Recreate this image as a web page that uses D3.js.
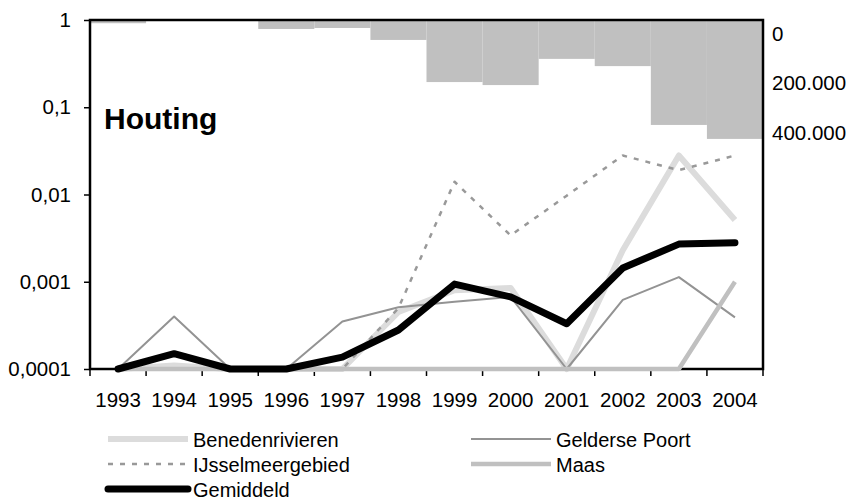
<!DOCTYPE html>
<html>
<head>
<meta charset="utf-8">
<script src="https://cdn.jsdelivr.net/npm/d3@7"></script>
<style>
  body { margin: 0; background: #fff; }
  svg { font-family: "Liberation Sans", Arial, sans-serif; }
</style>
</head>
<body>
<svg id="chart" width="849" height="500"></svg>
<script>
const years = ['1993', '1994', '1995', '1996', '1997', '1998', '1999', '2000', '2001', '2002', '2003', '2004']

// secondary axis: totals (bars hanging from the top)
const totals = [13000, 0, 0, 36000, 32000, 80000, 249000, 261000, 156000, 185000, 421000, 477000]

const benedenrivieren = [0.0001, 0.00011, 0.0001, 0.0001, 0.0001, 0.00045, 0.0008, 0.00085, 0.0001, 0.0023, 0.028, 0.0051]
const geldersePoort = [0.0001, 0.0004, 0.0001, 0.0001, 0.00035, 0.00051, 0.00059, 0.00067, 0.0001, 0.00062, 0.00113, 0.00039]
const ijsselmeer = [0.0001, 0.0001, 0.0001, 0.0001, 0.0001, 0.0005, 0.014, 0.0034, 0.0097, 0.028, 0.019, 0.028]
const maas = [0.0001, 0.0001, 0.0001, 0.0001, 0.0001, 0.0001, 0.0001, 0.0001, 0.0001, 0.0001, 0.0001, 0.001]
const gemiddeld = [0.0001, 0.00015, 0.0001, 0.0001, 0.000137, 0.00028, 0.00094, 0.00067, 0.00033, 0.00144, 0.0027, 0.0028]

const leftTicks = [1, 0.1, 0.01, 0.001, 0.0001]
const leftTickLabels = ['1', '0,1', '0,01', '0,001', '0,0001']
const rightTicks = [0, 200000, 400000]
const rightTickLabels = ['0', '200.000', '400.000']

const FONT = '"Liberation Sans", Arial, sans-serif'
const svg = d3.select('#chart')
const margin = { top: 20, left: 90, right: 86, bottom: 131 }
const width = 849, height = 500
const innerW = width - margin.left - margin.right
const innerH = height - margin.top - margin.bottom

const g = svg.append('g').attr('transform', `translate(${margin.left},${margin.top})`)

// ------------------
// Scales
// ------------------
const x = d3.scaleBand().domain(years).range([0, innerW]).padding(0)
const y = d3.scaleLog().domain([0.0001, 1]).range([innerH, 0])
const y2 = d3.scaleLinear().domain([0, 1400000]).range([0, innerH])

// ------------------
// Bars (secondary axis, reversed)
// ------------------
g.selectAll('.bar')
  .data(years.map((d, i) => ({ year: d, value: totals[i] })))
  .enter()
  .append('rect')
  .attr('x', d => x(d.year))
  .attr('y', 0)
  .attr('width', x.bandwidth())
  .attr('height', d => y2(d.value))
  .attr('fill', '#c0c0c0')

// ------------------
// Axes
// ------------------
const leftAxis = g.append('g')
  .call(d3.axisLeft(y).tickValues(leftTicks).tickSize(6).tickFormat((d, i) => leftTickLabels[i]))
leftAxis.select('.domain').remove()
leftAxis.selectAll('line').attr('stroke', '#000').attr('stroke-width', 1.5)
leftAxis.selectAll('text').attr('font-size', 20.5).attr('x', -19).attr('fill', '#000')
  .attr('font-family', FONT)

const bottomAxis = g.append('g')
  .attr('transform', `translate(0,${innerH})`)
  .call(d3.axisBottom(x).tickSize(0).tickPadding(23))
bottomAxis.select('.domain').remove()
bottomAxis.selectAll('text').attr('font-size', 20.5).attr('fill', '#000')
  .attr('font-family', FONT)

// tick marks between categories
g.append('g')
  .selectAll('line')
  .data(years.concat(['end']))
  .enter()
  .append('line')
  .attr('x1', (d, i) => i * x.step())
  .attr('x2', (d, i) => i * x.step())
  .attr('y1', innerH)
  .attr('y2', innerH + 7)
  .attr('stroke', '#000')
  .attr('stroke-width', 1.5)

const rightAxis = g.append('g')
  .attr('transform', `translate(${innerW},0)`)
  .call(d3.axisRight(y2).tickValues(rightTicks).tickSize(0).tickPadding(9).tickFormat((d, i) => rightTickLabels[i]))
rightAxis.select('.domain').remove()
rightAxis.selectAll('.tick').attr('transform', d => `translate(0,${y2(d) + 14})`)
rightAxis.selectAll('text').attr('font-size', 20.5).attr('fill', '#000')
  .attr('font-family', FONT)

// frame
g.append('rect')
  .attr('x', 0).attr('y', 0)
  .attr('width', innerW).attr('height', innerH)
  .attr('fill', 'none')
  .attr('stroke', '#000')
  .attr('stroke-width', 2.5)

// ------------------
// Lines
// ------------------
const series = [
  { name: 'Benedenrivieren', values: benedenrivieren, color: '#dcdcdc', width: 6, dash: null },
  { name: 'Gelderse Poort', values: geldersePoort, color: '#939393', width: 2, dash: null },
  { name: 'IJsselmeergebied', values: ijsselmeer, color: '#999999', width: 2.5, dash: '5,7' },
  { name: 'Maas', values: maas, color: '#c0c0c0', width: 4.5, dash: null },
  { name: 'Gemiddeld', values: gemiddeld, color: '#000000', width: 7, dash: null }
]

const line = d3.line()
  .x((d, i) => x(years[i]) + x.bandwidth() / 2)
  .y(d => y(d))

series.forEach(s => {
  g.append('path')
    .datum(s.values)
    .attr('d', line)
    .attr('fill', 'none')
    .attr('stroke', s.color)
    .attr('stroke-width', s.width)
    .attr('stroke-linejoin', 'round')
    .attr('stroke-linecap', s.name === 'Gemiddeld' ? 'round' : 'butt')
    .attr('stroke-dasharray', s.dash)
})

// ------------------
// Title
// ------------------
svg.append('text')
  .attr('x', 104)
  .attr('y', 129)
  .attr('font-size', 30)
  .attr('font-weight', 'bold')
  .text('Houting')

// ------------------
// Legend
// ------------------
const legendPos = [
  { x: 108, y: 439 }, { x: 471, y: 439 },
  { x: 108, y: 464 }, { x: 471, y: 464 },
  { x: 108, y: 489 }
]
const legend = svg.append('g')
series.forEach((s, i) => {
  const p = legendPos[i]
  legend.append('line')
    .attr('x1', p.x).attr('x2', p.x + 80)
    .attr('y1', p.y).attr('y2', p.y)
    .attr('stroke', s.color)
    .attr('stroke-width', s.width)
    .attr('stroke-linecap', s.name === 'Gemiddeld' ? 'round' : 'butt')
    .attr('stroke-dasharray', s.dash)
  legend.append('text')
    .attr('x', p.x + 85)
    .attr('y', p.y + 1)
    .attr('dy', '0.35em')
    .attr('font-size', 20)
    .text(s.name)
})
</script>
</body>
</html>
